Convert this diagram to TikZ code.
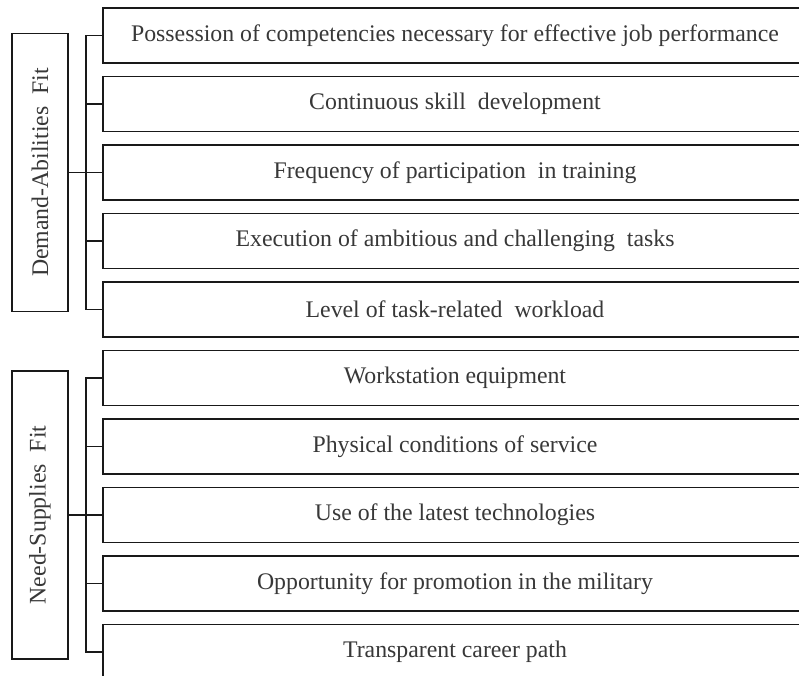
\documentclass[tikz,border=0pt]{standalone}
\usepackage{fontspec}
\setmainfont{Liberation Serif}
\usetikzlibrary{positioning}

\begin{document}
\begin{tikzpicture}[x=1pt,y=1pt,node distance=13.5pt,
    item node/.style={rectangle,draw=black!90,line width=1.6pt,fill=white,
      text=black!78,font=\fontsize{23.8}{28}\selectfont,outer sep=0pt,
      minimum width=704pt,minimum height=55pt,inner sep=0pt},
    group node/.style={rectangle,draw=black!90,line width=1.6pt,fill=white,
      text=black!78,font=\fontsize{23.8}{28}\selectfont,outer sep=0pt,
      rotate=90,minimum height=56pt,inner sep=0pt},
    tree/.style={draw=black!90,line width=1.5pt}]

  \useasboundingbox (0,0) rectangle (799,-675);
  \clip (0,0) rectangle (799,-675);

  % demand-abilities items
  \node[item node,anchor=north west] (d1) at (103,-8)
    {Possession of competencies necessary for effective job performance};
  \node[item node] (d2) [below=of d1] {Continuous skill\ \ development};
  \node[item node] (d3) [below=of d2] {Frequency of participation\ \ in training};
  \node[item node] (d4) [below=of d3] {Execution of ambitious and challenging\ \ tasks};
  \node[item node] (d5) [below=of d4] {Level of task-related\ \ workload};

  % need-supplies items
  \node[item node] (d6) [below=of d5] {Workstation equipment};
  \node[item node] (d7) [below=of d6] {Physical conditions of service};
  \node[item node] (d8) [below=of d7] {Use of the latest technologies};
  \node[item node] (d9) [below=of d8] {Opportunity for promotion in the military};
  \node[item node] (d10) [below=of d9] {Transparent career path};

  \path (d3.west) ++(-63,0) node[group node,minimum width=278pt] (demand)
    {Demand-Abilities\ \ Fit};
  \path (d8.west) ++(-63,0) node[group node,minimum width=288pt] (need)
    {Need-Supplies\ \ Fit};

  % brackets
  \draw[tree] (d1.west) -- ++(-17,0) |- (d5.west);
  \draw[tree] (d6.west) -- ++(-17,0) |- (d10.west);
  \foreach \i in {2,3,4,7,8,9}
    \draw[tree] (d\i.west) -- ++(-17,0);
  \draw[tree] (demand.south) -- (d3.west);
  \draw[tree] (need.south) -- (d8.west);
\end{tikzpicture}
\end{document}
